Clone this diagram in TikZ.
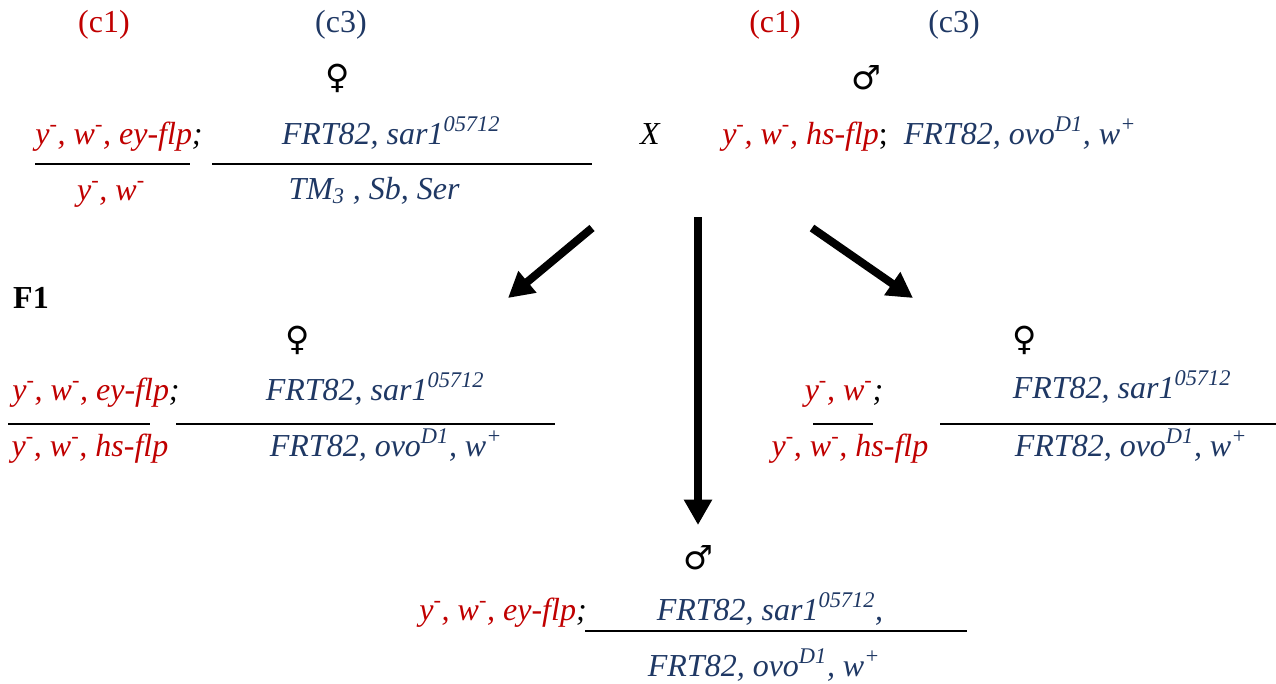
\documentclass[tikz,border=0pt]{standalone}
\usepackage{fontspec}
\setmainfont{Liberation Serif}
\newfontfamily\sexfont{DejaVu Sans}
\usepackage{tikz}
\usetikzlibrary{arrows.meta}
\definecolor{flyred}{HTML}{C00000}
\definecolor{flyblue}{HTML}{1F3864}
\newcommand{\ms}{\textsuperscript{-}}

\begin{document}
\begin{tikzpicture}[x=0.75pt, y=-0.75pt,
  gene/.style={anchor=base, inner sep=0pt, text=#1, font=\fontsize{24}{28}\selectfont\itshape},
  chrom/.style={inner sep=0pt, text=#1, font=\fontsize{24}{28}\selectfont},
  sex/.style={inner sep=0pt, font=\sexfont\fontsize{25}{28}\selectfont},
  bar/.style={line width=1.6pt},
  cross/.style={line width=6pt, -{Triangle[length=19pt,width=20pt]}}
]
  \useasboundingbox (0,0) rectangle (1276,683);

  % parents
  \node[chrom=flyred] (c1f) at (104,25) {(c1)};
  \node[chrom=flyblue] (c3f) at (341,25) {(c3)};
  \node[sex] (female) at (338,78) {♀};
  \node[gene=flyred] (fx) at (119,144) {y\ms, w\ms, ey-flp\textcolor{black}{;}};
  \draw[bar] (35,164) -- (190,164);
  \node[gene=flyred] (fxb) at (111,200) {y\ms, w\ms};
  \node[gene=flyblue] (f3) at (391,144) {FRT82, sar1\textsuperscript{05712}};
  \draw[bar] (212,164) -- (592,164);
  \node[gene=flyblue] (f3b) at (374,199) {TM\textsubscript{3} , Sb, Ser};
  \node[gene=black] (cross) at (650,144) {X};
  \node[chrom=flyred] (c1m) at (775,25) {(c1)};
  \node[chrom=flyblue] (c3m) at (954,25) {(c3)};
  \node[sex] (male) at (866,78) {♂};
  \node[gene=flyred, anchor=base west] (mx) at (722,144) {y\ms, w\ms, hs-flp\textcolor{black}{\upshape;}~~\textcolor{flyblue}{FRT82, ovo\textsuperscript{D1}, w\textsuperscript{+}}};

  % arrows
  \coordinate (l0) at (592,228);
  \coordinate (l1) at (508,298);
  \coordinate (m0) at (698,217);
  \coordinate (m1) at (698,525);
  \coordinate (r0) at (812,228);
  \coordinate (r1) at (913,298);
  \draw[cross] (l0) -- (l1);
  \draw[cross] (m0) -- (m1);
  \draw[cross] (r0) -- (r1);

  % F1
  \node[inner sep=0pt, font=\fontsize{24}{28}\selectfont\bfseries] (f1) at (31,298) {F1};

  % F1 females, left
  \node[sex] (fem1) at (298,340) {♀};
  \node[gene=flyred] (lx) at (96,400) {y\ms, w\ms, ey-flp\textcolor{black}{;}};
  \draw[bar] (8,424) -- (150,424);
  \node[gene=flyred] (lxb) at (90,456) {y\ms, w\ms, hs-flp};
  \node[gene=flyblue] (l3) at (375,400) {FRT82, sar1\textsuperscript{05712}};
  \draw[bar] (176,424) -- (555,424);
  \node[gene=flyblue] (l3b) at (386,456) {FRT82, ovo\textsuperscript{D1}, w\textsuperscript{+}};

  % F1 females, right
  \node[sex] (fem2) at (1025,340) {♀};
  \node[gene=flyred] (rx) at (844,400) {y\ms, w\ms\textcolor{black}{ ;}};
  \draw[bar] (813,424) -- (873,424);
  \node[gene=flyred] (rxb) at (850,456) {y\ms, w\ms, hs-flp};
  \node[gene=flyblue] (r3) at (1122,398) {FRT82, sar1\textsuperscript{05712}};
  \draw[bar] (940,424) -- (1276,424);
  \node[gene=flyblue] (r3b) at (1131,456) {FRT82, ovo\textsuperscript{D1}, w\textsuperscript{+}};

  % F1 males
  \node[sex] (male2) at (698,558) {♂};
  \node[gene=flyred] (bx) at (503,620) {y\ms, w\ms, ey-flp\textcolor{black}{;}};
  \draw[bar] (585,631) -- (967,631);
  \node[gene=flyblue] (b3) at (770,620) {FRT82, sar1\textsuperscript{05712},};
  \node[gene=flyblue] (b3b) at (764,676) {FRT82, ovo\textsuperscript{D1}, w\textsuperscript{+}};
\end{tikzpicture}
\end{document}
